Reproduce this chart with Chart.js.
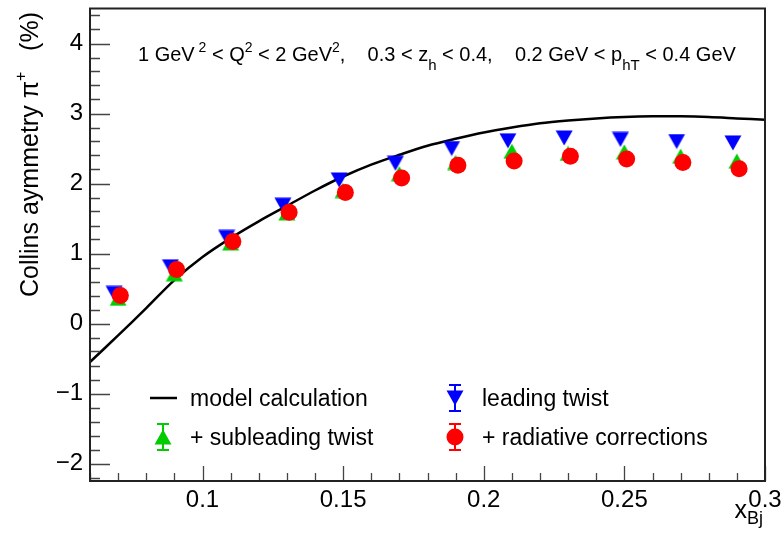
<!DOCTYPE html>
<html>
<head>
<meta charset="utf-8">
<script src="https://cdn.jsdelivr.net/npm/chart.js@4.4.1/dist/chart.umd.min.js"></script>
<style>
  html, body { margin: 0; padding: 0; background: #fff; }
</style>
</head>
<body>
<canvas id="chart" width="784" height="540"></canvas>
<script>
const FONT = '"Liberation Sans", Arial, Helvetica, sans-serif';

// model curve
const xModel = [0.06, 0.07, 0.08, 0.09, 0.10, 0.11, 0.12, 0.13, 0.14, 0.15, 0.16, 0.17, 0.18,
                0.19, 0.20, 0.21, 0.22, 0.23, 0.24, 0.25, 0.26, 0.27, 0.28, 0.29, 0.30];
const yModel = [-0.55, -0.17, 0.22, 0.62, 0.95, 1.22, 1.46, 1.68, 1.90, 2.10, 2.27, 2.41, 2.54,
                2.64, 2.73, 2.80, 2.86, 2.90, 2.93, 2.95, 2.96, 2.96, 2.95, 2.93, 2.91];

// leading twist (slightly shifted left in the plot)
const xLeading = [0.0686, 0.0886, 0.1086, 0.1286, 0.1486, 0.1686, 0.1886, 0.2086, 0.2286, 0.2486, 0.2686, 0.2886];
const yLeading = [0.43, 0.81, 1.23, 1.69, 2.05, 2.29, 2.50, 2.61, 2.65, 2.63, 2.60, 2.58];

// + subleading twist
const xSub = [0.07, 0.09, 0.11, 0.13, 0.15, 0.17, 0.19, 0.21, 0.23, 0.25, 0.27, 0.29];
const ySub = [0.36, 0.71, 1.15, 1.58, 1.90, 2.14, 2.30, 2.46, 2.43, 2.45, 2.39, 2.32];

// + radiative corrections (slightly shifted right)
const xRad = [0.0708, 0.0908, 0.1108, 0.1308, 0.1508, 0.1708, 0.1908, 0.2108, 0.2308, 0.2508, 0.2708, 0.2908];
const yRad = [0.40, 0.77, 1.17, 1.59, 1.87, 2.08, 2.26, 2.32, 2.39, 2.35, 2.30, 2.21];

const xTicks = [0.1, 0.15, 0.2, 0.25, 0.3];
const yTicks = [-2, -1, 0, 1, 2, 3, 4];

const BLUE = '#0000ff', GREEN = '#00cc00', RED = '#ff0000';

function triangle(color, down) {
  const c = document.createElement('canvas');
  c.width = 18; c.height = 16;
  const g = c.getContext('2d');
  g.fillStyle = color;
  g.beginPath();
  if (down) { g.moveTo(0.5, 0.5); g.lineTo(17.5, 0.5); g.lineTo(9, 15.5); }
  else { g.moveTo(9, 0.5); g.lineTo(17.5, 15.5); g.lineTo(0.5, 15.5); }
  g.closePath();
  g.fill();
  return c;
}
const triDown = triangle(BLUE, true);
const triUp = triangle(GREEN, false);

function pts(xs, ys) { return xs.map((x, i) => ({ x: x, y: ys[i] })); }

function fmt(v) {
  const s = String(Math.round(v * 1000) / 1000);
  return v < 0 ? '\u2212' + s.slice(1) : s;
}

// draws text pieces with sub/superscripts, returns end x
function richText(ctx, x, y, parts, size, measureOnly) {
  let cx = x;
  parts.forEach(p => {
    ctx.font = (p.s || size) + 'px ' + FONT;
    if (!measureOnly) ctx.fillText(p.t, cx, y - (p.dy || 0));
    cx += ctx.measureText(p.t).width;
  });
  return cx;
}

const decorations = {
  id: 'decorations',
  afterDraw(chart) {
    const ctx = chart.ctx;
    const a = chart.chartArea;
    const xs = chart.scales.x, ys = chart.scales.y;
    ctx.save();

    // ticks on the inside
    ctx.strokeStyle = '#444';
    ctx.lineWidth = 1.3;
    ctx.beginPath();
    for (let i = 0; i <= 24; i++) {
      const v = 0.06 + i * 0.01;
      const px = Math.round(xs.getPixelForValue(v)) + 0.5;
      const len = (Math.round(v * 100) % 5 === 0) ? 15 : 8;
      ctx.moveTo(px, a.bottom);
      ctx.lineTo(px, a.bottom - len);
    }
    for (let i = 0; i <= 33; i++) {
      const v = -2.2 + i * 0.2;
      const py = Math.round(ys.getPixelForValue(v)) + 0.5;
      const len = (Math.abs(v - Math.round(v)) < 1e-6) ? 20 : 10;
      ctx.moveTo(a.left, py);
      ctx.lineTo(a.left + len, py);
    }
    ctx.stroke();

    // frame
    ctx.strokeStyle = '#222';
    ctx.lineWidth = 2;
    ctx.strokeRect(a.left, a.top, a.right - a.left, a.bottom - a.top);

    ctx.fillStyle = '#000';
    ctx.textBaseline = 'alphabetic';
    ctx.textAlign = 'left';

    // kinematic range
    richText(ctx, 138, 61, [
      { t: '1 GeV' }, { t: ' 2', s: 14, dy: 9 }, { t: ' < Q' }, { t: '2', s: 14, dy: 9 },
      { t: ' < 2 GeV' }, { t: '2', s: 14, dy: 9 }, { t: ',    0.3 < z' }, { t: 'h', s: 15, dy: -9 },
      { t: ' < 0.4,    0.2 GeV < p' }, { t: 'hT', s: 15, dy: -9 }, { t: ' < 0.4 GeV' }
    ], 20);

    // y title
    ctx.save();
    ctx.translate(38, 297);
    ctx.rotate(-Math.PI / 2);
    richText(ctx, 0, 0, [
      { t: 'Collins aymmetry \u03c0' }, { t: '+', s: 16, dy: 12 }, { t: '   (%)' }
    ], 25);
    ctx.restore();

    // x title, right aligned
    const xParts = [{ t: 'x' }, { t: 'Bj', s: 18, dy: -6 }];
    const w = richText(ctx, 0, 0, xParts, 25, true);
    richText(ctx, 763 - w, 518, xParts, 25);

    // legend
    ctx.font = '23px ' + FONT;
    ctx.fillText('model calculation', 190, 406);
    ctx.fillText('+ subleading twist', 190, 445);
    ctx.fillText('leading twist', 482, 406);
    ctx.fillText('+ radiative corrections', 482, 445);

    ctx.strokeStyle = '#000';
    ctx.lineWidth = 2.5;
    ctx.beginPath();
    ctx.moveTo(150, 398); ctx.lineTo(177, 398);
    ctx.stroke();

    function errSym(cx, cy, color, drawMark) {
      ctx.strokeStyle = color;
      ctx.lineWidth = 2;
      ctx.beginPath();
      ctx.moveTo(cx, cy - 13); ctx.lineTo(cx, cy + 13);
      ctx.moveTo(cx - 6, cy - 13); ctx.lineTo(cx + 6, cy - 13);
      ctx.moveTo(cx - 6, cy + 13); ctx.lineTo(cx + 6, cy + 13);
      ctx.stroke();
      drawMark(cx, cy);
    }
    errSym(163, 437, GREEN, (cx, cy) => ctx.drawImage(triUp, cx - 9, cy - 8));
    errSym(455, 398, BLUE, (cx, cy) => ctx.drawImage(triDown, cx - 9, cy - 8));
    errSym(455, 437, RED, (cx, cy) => {
      ctx.fillStyle = RED;
      ctx.beginPath(); ctx.arc(cx, cy, 8.5, 0, Math.PI * 2); ctx.fill();
    });

    ctx.restore();
  }
};

const ctx = document.getElementById('chart').getContext('2d');
new Chart(ctx, {
  type: 'scatter',
  data: {
    datasets: [
      {
        label: 'model calculation',
        type: 'line',
        data: pts(xModel, yModel),
        borderColor: '#000',
        borderWidth: 2.5,
        pointRadius: 0,
        tension: 0.3,
        fill: false,
        order: 4
      },
      {
        label: 'leading twist',
        data: pts(xLeading, yLeading),
        pointStyle: triDown,
        order: 3
      },
      {
        label: '+ subleading twist',
        data: pts(xSub, ySub),
        pointStyle: triUp,
        order: 2
      },
      {
        label: '+ radiative corrections',
        data: pts(xRad, yRad),
        pointStyle: 'circle',
        pointRadius: 8.5,
        backgroundColor: RED,
        borderWidth: 0,
        order: 1
      }
    ]
  },
  options: {
    responsive: false,
    animation: false,
    devicePixelRatio: 1,
    layout: { padding: { left: 0, right: 19, top: 8, bottom: 0 } },
    plugins: { legend: { display: false }, tooltip: { enabled: false } },
    scales: {
      x: {
        type: 'linear',
        min: 0.06,
        max: 0.3,
        grid: { display: false, drawTicks: false },
        border: { display: false },
        afterBuildTicks: s => { s.ticks = xTicks.map(v => ({ value: v })); },
        afterFit: s => { s.height = 59; s.paddingLeft = 0; s.paddingRight = 0; },
        ticks: {
          autoSkip: false, maxRotation: 0, padding: 5, color: '#000',
          font: { family: FONT, size: 24 },
          callback: v => fmt(v)
        }
      },
      y: {
        type: 'linear',
        min: -2.25,
        max: 4.5,
        grid: { display: false, drawTicks: false },
        border: { display: false },
        afterBuildTicks: s => { s.ticks = yTicks.map(v => ({ value: v })); },
        afterFit: s => { s.width = 90; s.paddingTop = 0; s.paddingBottom = 0; },
        ticks: {
          autoSkip: false, padding: 7, color: '#000',
          font: { family: FONT, size: 24 },
          callback: v => fmt(v)
        }
      }
    }
  },
  plugins: [decorations]
});
</script>
</body>
</html>
